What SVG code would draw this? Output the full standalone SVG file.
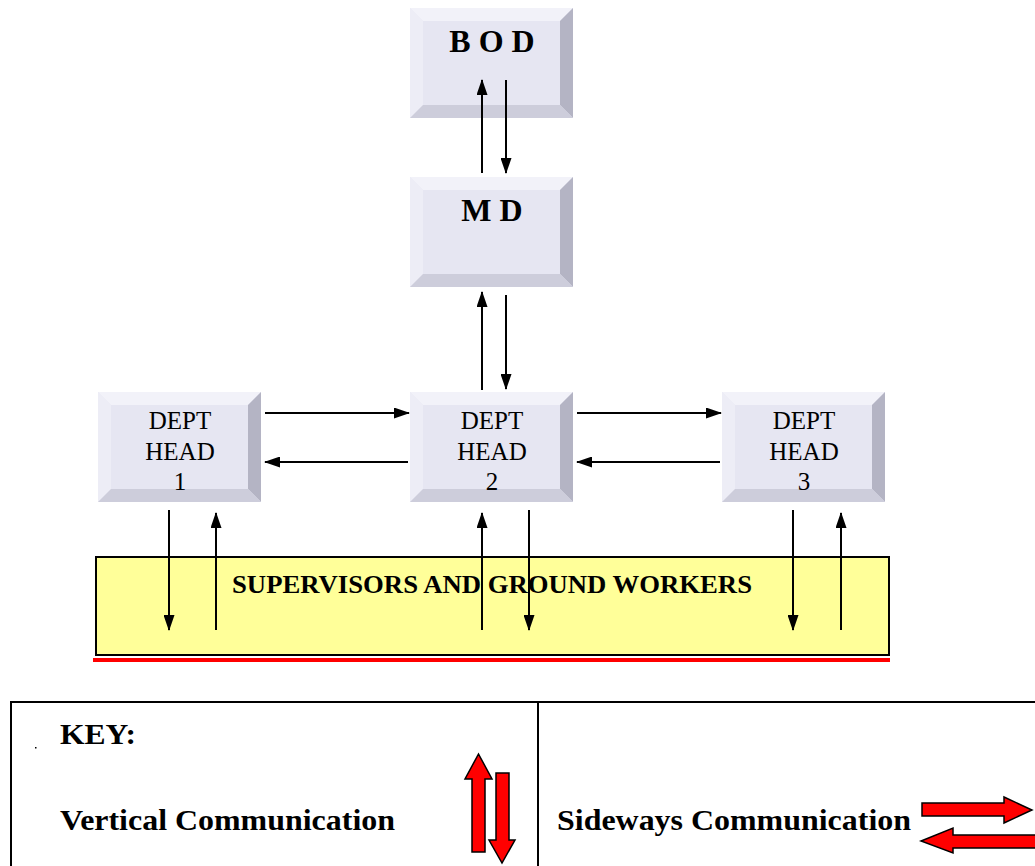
<svg xmlns="http://www.w3.org/2000/svg" xmlns:xlink="http://www.w3.org/1999/xlink" width="1035" height="866" viewBox="0 0 1035 866">
<style>
.face{fill:#E6E6F2}
.bt{fill:#F2F2F9}
.bl{fill:#EDEDF6}
.br{fill:#B4B4C4}
.bb{fill:#CDCDDB}
.conn line{stroke:#000;stroke-width:2}
.bold{font-family:"Liberation Serif","Times New Roman",serif;font-weight:bold;fill:#000}
.reg{font-family:"Liberation Serif","Times New Roman",serif;fill:#000}
.red{fill:#FF0000;stroke:#000;stroke-width:1.5;stroke-linejoin:miter}
</style>
<defs>
<g id="bevel">
<rect class="face" x="0" y="0" width="163" height="110"/>
<polygon class="bt" points="0,0 163,0 150,13 13,13"/>
<polygon class="bl" points="0,0 13,13 13,97 0,110"/>
<polygon class="br" points="163,0 163,110 150,97 150,13"/>
<polygon class="bb" points="0,110 13,97 150,97 163,110"/>
</g>
<marker id="ah" viewBox="0 0 16 11" refX="15" refY="5.5" markerWidth="16" markerHeight="11" markerUnits="userSpaceOnUse" orient="auto">
<path d="M0,0 L16,5.5 L0,11 Z" fill="#000"/>
</marker>
</defs>

<g id="bod">
<use xlink:href="#bevel" x="410" y="8"/>
<text class="bold" x="492" y="52" font-size="32" text-anchor="middle">B O D</text>
</g>
<g id="md">
<use xlink:href="#bevel" x="410" y="177"/>
<text class="bold" x="492" y="221" font-size="32" text-anchor="middle">M D</text>
</g>
<g id="dept1">
<use xlink:href="#bevel" x="98" y="392"/>
<text class="reg" x="180" y="429" font-size="25" text-anchor="middle">DEPT</text>
<text class="reg" x="180" y="460" font-size="25" text-anchor="middle">HEAD</text>
<text class="reg" x="180" y="490" font-size="25" text-anchor="middle">1</text>
</g>
<g id="dept2">
<use xlink:href="#bevel" x="410" y="392"/>
<text class="reg" x="492" y="429" font-size="25" text-anchor="middle">DEPT</text>
<text class="reg" x="492" y="460" font-size="25" text-anchor="middle">HEAD</text>
<text class="reg" x="492" y="490" font-size="25" text-anchor="middle">2</text>
</g>
<g id="dept3">
<use xlink:href="#bevel" x="722" y="392"/>
<text class="reg" x="804" y="429" font-size="25" text-anchor="middle">DEPT</text>
<text class="reg" x="804" y="460" font-size="25" text-anchor="middle">HEAD</text>
<text class="reg" x="804" y="490" font-size="25" text-anchor="middle">3</text>
</g>
<g id="supervisors">
<rect x="96" y="557" width="793" height="98" fill="#FFFF99" stroke="#000" stroke-width="2"/>
<text class="bold" x="232" y="593" font-size="26" textLength="520" lengthAdjust="spacingAndGlyphs">SUPERVISORS AND GROUND WORKERS</text>
<rect x="93" y="658" width="797" height="4" fill="#FF0000"/>
</g>

<g id="connectors" class="conn">
<line x1="482" y1="173" x2="482" y2="80" marker-end="url(#ah)"/>
<line x1="506" y1="80" x2="506" y2="173" marker-end="url(#ah)"/>
<line x1="482" y1="390" x2="482" y2="292" marker-end="url(#ah)"/>
<line x1="506" y1="295" x2="506" y2="389" marker-end="url(#ah)"/>
<line x1="265" y1="413" x2="409" y2="413" marker-end="url(#ah)"/>
<line x1="408" y1="462" x2="265" y2="462" marker-end="url(#ah)"/>
<line x1="577" y1="413" x2="721" y2="413" marker-end="url(#ah)"/>
<line x1="720" y1="462" x2="577" y2="462" marker-end="url(#ah)"/>
<line x1="169" y1="510" x2="169" y2="630" marker-end="url(#ah)"/>
<line x1="216" y1="630" x2="216" y2="513" marker-end="url(#ah)"/>
<line x1="482" y1="630" x2="482" y2="513" marker-end="url(#ah)"/>
<line x1="529" y1="510" x2="529" y2="630" marker-end="url(#ah)"/>
<line x1="793" y1="510" x2="793" y2="630" marker-end="url(#ah)"/>
<line x1="841" y1="630" x2="841" y2="513" marker-end="url(#ah)"/>
</g>

<g id="key">
<rect x="11" y="702" width="1040" height="180" fill="none" stroke="#000" stroke-width="2"/>
<line x1="538" y1="702" x2="538" y2="866" stroke="#000" stroke-width="2"/>
<rect x="35" y="747" width="1.5" height="1.5" fill="#000"/>
<text class="bold" x="60" y="744" font-size="29" textLength="76" lengthAdjust="spacingAndGlyphs">KEY:</text>
<text class="bold" x="60" y="830" font-size="29" textLength="335" lengthAdjust="spacingAndGlyphs">Vertical Communication</text>
<text class="bold" x="557" y="830" font-size="29" textLength="354" lengthAdjust="spacingAndGlyphs">Sideways Communication</text>
<polygon class="red" points="472,852 472,779 465,779 478.5,754 492,779 485,779 485,852"/>
<polygon class="red" points="496,773 509,773 509,840 515,840 502,863 489,840 496,840"/>
<polygon class="red" points="922,803 1004,803 1004,797 1032,810 1004,823 1004,816 922,816"/>
<polygon class="red" points="1040,835 953,835 953,828 921,841 953,853 953,848 1040,848"/>
</g>
</svg>
